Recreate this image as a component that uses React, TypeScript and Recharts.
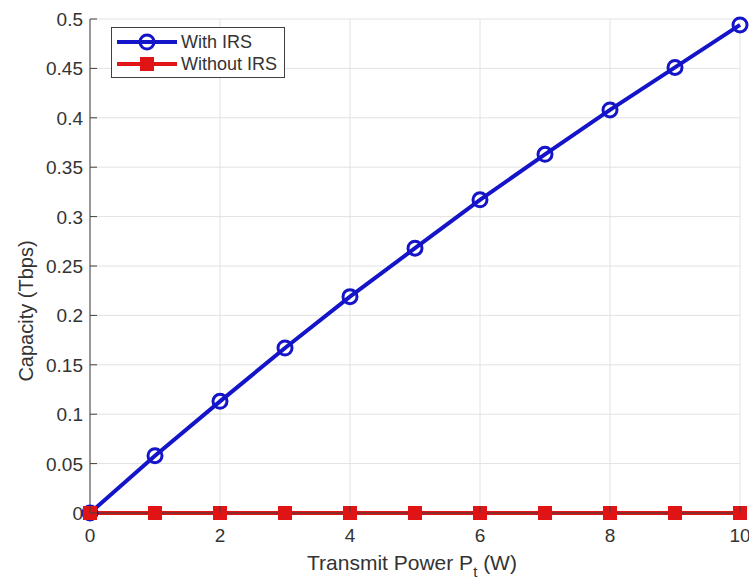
import React from 'react';
import { LineChart, Line, XAxis, YAxis, CartesianGrid, Legend } from 'recharts';

const powerW = [0, 1, 2, 3, 4, 5, 6, 7, 8, 9, 10];
const withIRS = [0, 0.058, 0.113, 0.167, 0.219, 0.268, 0.317, 0.363, 0.408, 0.451, 0.494];
const withoutIRS = [0, 0, 0, 0, 0, 0, 0, 0, 0, 0, 0];
const xTicks = [0, 2, 4, 6, 8, 10];
const yTicks = [0, 0.05, 0.1, 0.15, 0.2, 0.25, 0.3, 0.35, 0.4, 0.45, 0.5];
const yTickLabels = ['0', '0.05', '0.1', '0.15', '0.2', '0.25', '0.3', '0.35', '0.4', '0.45', '0.5'];
const seriesNames = ['With IRS', 'Without IRS'];

const data = powerW.map((p, i) => ({ p, withIRS: withIRS[i], withoutIRS: withoutIRS[i] }));

const BLUE = '#1414c8';
const RED = '#e01414';
const AXIS = '#404040';
const TEXT = '#333333';
const FONT = '"Liberation Sans", Arial, Helvetica, sans-serif';

const XTick = (props: any) => {
  const { x, y, payload } = props;
  return (
    <g>
      <line x1={x} x2={x} y1={y} y2={y - 7} stroke={AXIS} strokeWidth={1} />
      <text x={x} y={y + 29} textAnchor="middle" fontSize={19} fill={TEXT} fontFamily={FONT}>
        {payload.value}
      </text>
    </g>
  );
};

const YTick = (props: any) => {
  const { x, y, payload } = props;
  const idx = yTicks.findIndex((t) => Math.abs(t - payload.value) < 1e-9);
  const label = idx >= 0 ? yTickLabels[idx] : String(payload.value);
  return (
    <g>
      <line x1={x} x2={x + 7} y1={y} y2={y} stroke={AXIS} strokeWidth={1} />
      <text x={x - 7} y={y + 7} textAnchor="end" fontSize={19} fill={TEXT} fontFamily={FONT}>
        {label}
      </text>
    </g>
  );
};

const TopTick = (props: any) => {
  const { x, y } = props;
  return <line x1={x} x2={x} y1={y} y2={y + 7} stroke={AXIS} strokeWidth={1} />;
};

const RightTick = (props: any) => {
  const { x, y } = props;
  return <line x1={x} x2={x - 7} y1={y} y2={y} stroke={AXIS} strokeWidth={1} />;
};

const CircleDot = (props: any) => {
  const { cx, cy, index } = props;
  if (cx == null || cy == null) return <g key={index} />;
  return <circle key={index} cx={cx} cy={cy} r={7} fill="none" stroke={BLUE} strokeWidth={3} />;
};

const SquareDot = (props: any) => {
  const { cx, cy, index } = props;
  if (cx == null || cy == null) return <g key={index} />;
  return <rect key={index} x={cx - 7} y={cy - 7} width={14} height={14} fill={RED} />;
};

const LegendBox = () => (
  <svg width={174} height={52} style={{ display: 'block' }}>
    <rect x={0.5} y={0.5} width={173} height={50} fill="#ffffff" stroke={AXIS} strokeWidth={1} />
    <line x1={6} x2={66} y1={15} y2={15} stroke={BLUE} strokeWidth={4} />
    <circle cx={36} cy={15} r={7} fill="none" stroke={BLUE} strokeWidth={3} />
    <text x={70} y={21} fontSize={18} fill={TEXT} fontFamily={FONT}>{seriesNames[0]}</text>
    <line x1={6} x2={66} y1={37} y2={37} stroke={RED} strokeWidth={4} />
    <rect x={29} y={30} width={14} height={14} fill={RED} />
    <text x={70} y={43} fontSize={18} fill={TEXT} fontFamily={FONT}>{seriesNames[1]}</text>
  </svg>
);

const YLabel = (props: any) => {
  const vb = props.viewBox || { x: 0, y: 19, width: 90, height: 494 };
  const cx = vb.x + 33;
  const cy = vb.y + vb.height / 2 + 45;
  return (
    <text x={cx} y={cy} transform={`rotate(-90, ${cx}, ${cy})`} textAnchor="middle" fontSize={20} fill={TEXT} fontFamily={FONT}>
      Capacity (Tbps)
    </text>
  );
};

const XLabel = (props: any) => {
  const vb = props.viewBox || { x: 90, y: 513, width: 650, height: 70 };
  const cx = vb.x + vb.width / 2 - 3;
  const cy = vb.y + 57;
  return (
    <text x={cx} y={cy} textAnchor="middle" fontSize={21} fill={TEXT} fontFamily={FONT}>
      Transmit Power P
      <tspan dy={7} fontSize={15}>t</tspan>
      <tspan dy={-7}> (W)</tspan>
    </text>
  );
};

export default function App() {
  return (
    <div style={{ position: 'absolute', left: 0, top: 0, width: 749, height: 583, background: '#ffffff' }}>
      <LineChart width={749} height={583} data={data} margin={{ top: 19, right: 9, bottom: 0, left: 0 }}>
        <CartesianGrid stroke="#e2e2e2" strokeWidth={1} />
        <XAxis
          dataKey="p"
          type="number"
          domain={[0, 10]}
          ticks={xTicks}
          interval={0}
          height={70}
          tickSize={0}
          tickMargin={0}
          tickLine={false}
          tick={<XTick />}
          axisLine={{ stroke: AXIS, strokeWidth: 1 }}
          label={<XLabel />}
        />
        <XAxis
          xAxisId="top"
          dataKey="p"
          type="number"
          orientation="top"
          domain={[0, 10]}
          ticks={xTicks}
          interval={0}
          height={0}
          tickSize={0}
          tickMargin={0}
          tickLine={false}
          tick={<TopTick />}
          axisLine={{ stroke: AXIS, strokeWidth: 1 }}
        />
        <YAxis
          type="number"
          domain={[0, 0.5]}
          ticks={yTicks}
          interval={0}
          width={90}
          tickSize={0}
          tickMargin={0}
          tickLine={false}
          tick={<YTick />}
          axisLine={{ stroke: AXIS, strokeWidth: 1 }}
          label={<YLabel />}
        />
        <YAxis
          yAxisId="right"
          orientation="right"
          type="number"
          domain={[0, 0.5]}
          ticks={yTicks}
          interval={0}
          width={0}
          tickSize={0}
          tickMargin={0}
          tickLine={false}
          tick={<RightTick />}
          axisLine={{ stroke: AXIS, strokeWidth: 1 }}
        />
        <Legend
          layout="vertical"
          align="center"
          verticalAlign="middle"
          wrapperStyle={{ position: 'absolute', left: 111, top: 27, width: 174, height: 52 }}
          content={() => <LegendBox />}
        />
        <Line
          type="linear"
          dataKey="withIRS"
          name={seriesNames[0]}
          stroke={BLUE}
          strokeWidth={4}
          dot={<CircleDot />}
          isAnimationActive={false}
        />
        <Line
          type="linear"
          dataKey="withoutIRS"
          name={seriesNames[1]}
          stroke={RED}
          strokeWidth={4}
          dot={<SquareDot />}
          isAnimationActive={false}
        />
      </LineChart>
    </div>
  );
}
